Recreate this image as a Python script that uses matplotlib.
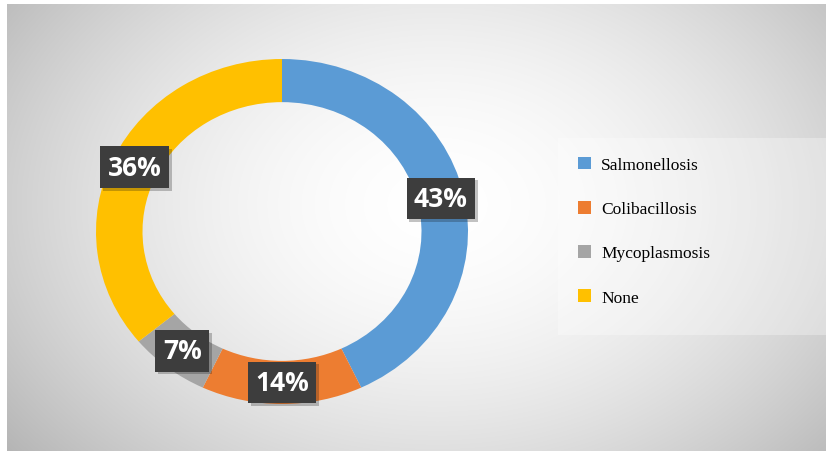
import numpy as np
import matplotlib.pyplot as plt
import matplotlib.patheffects as pe
from matplotlib.patches import Rectangle

# Disease share data
categories = ["Salmonellosis", "Colibacillosis", "Mycoplasmosis", "None"]
shares = [43, 14, 7, 36]
colors = ["#5B9BD5", "#ED7D31", "#A5A5A5", "#FFC000"]

W, H = 826, 452
fig = plt.figure(figsize=(W / 100, H / 100), dpi=100)
fig.patch.set_facecolor("white")

# Radial grey background panel
bg = fig.add_axes([7 / W, 0, 1 - 7 / W, 1 - 5 / H])
bg.set_axis_off()
yy, xx = np.mgrid[0:447, 0:819]
r = np.sqrt(((xx - 430) / 470) ** 2 + ((yy - 200) / 340) ** 2)
shade = np.clip(1.0 - 0.22 * r ** 1.8, 0, 1)
bg.imshow(np.dstack([shade] * 3), aspect="auto", interpolation="bilinear")

# Lighter legend panel
bg.add_patch(Rectangle((550, 133), 270, 197, facecolor="white", alpha=0.3,
                       edgecolor="none"))

# Donut
ax = fig.add_axes([96 / W, (H - 405) / H, 372 / W, 345 / H])
ax.set_axis_off()
wedges, _, autotexts = ax.pie(
    shares, colors=colors, startangle=90, counterclock=False,
    wedgeprops=dict(width=0.25, edgecolor="none"),
    autopct="%d%%", pctdistance=0.875,
    textprops=dict(color="white", fontsize=19, fontweight="bold",
                   family="Open Sans"))
ax.set_xlim(-1, 1)
ax.set_ylim(-1, 1)
ax.set_aspect("auto")

for t in autotexts:
    t.set_bbox(dict(boxstyle="square,pad=0.28", facecolor="#3d3d3d",
                    edgecolor="none"))
    t.get_bbox_patch().set_path_effects(
        [pe.SimplePatchShadow(offset=(2, -2), alpha=0.25), pe.Normal()])

# Legend
leg = fig.legend(wedges, categories, loc="upper left",
                 bbox_to_anchor=(562 / W, 1 - 142 / H), frameon=False,
                 prop=dict(family="Liberation Serif", size=12.5),
                 handlelength=0.75, handleheight=0.75, handletextpad=0.6,
                 labelspacing=1.6)

fig.savefig("out.png", dpi=100)
